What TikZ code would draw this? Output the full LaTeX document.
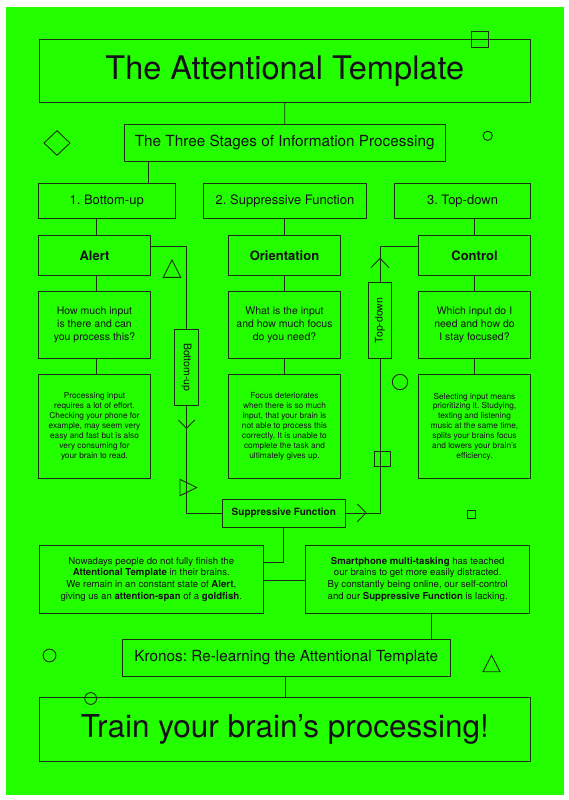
\documentclass[tikz,border=0pt]{standalone}
\usepackage{fontspec}
\setmainfont{TeX Gyre Heros}
\usepackage{graphicx}
\usetikzlibrary{shapes.geometric}
\definecolor{bg}{RGB}{36,255,0}
\definecolor{ink}{RGB}{22,16,28}
\definecolor{edge}{RGB}{28,48,22}
\begin{document}
\frenchspacing
\begin{tikzpicture}[x=1pt,y=-1pt,
  box/.style={draw=edge, line width=0.9pt, inner sep=0pt, align=center, text=ink},
  ln/.style={draw=edge, line width=0.9pt},
  deco/.style={draw=edge, line width=0.9pt},
  ttl/.style={font=\frenchspacing\fontsize{32.5}{36}\selectfont},
  hdr/.style={font=\frenchspacing\fontsize{15.3}{18}\selectfont},
  stg/.style={font=\frenchspacing\fontsize{13}{15}\selectfont},
  lbl/.style={font=\frenchspacing\bfseries\fontsize{13}{15}\selectfont},
  qst/.style={font=\frenchspacing\fontsize{10.5}{13}\selectfont},
  dsc/.style={font=\frenchspacing\fontsize{8.3}{9.9}\selectfont},
  bot/.style={font=\frenchspacing\fontsize{9.6}{11.7}\selectfont},
  vrt/.style={font=\frenchspacing\fontsize{10.5}{12}\selectfont},
  colw/.style={minimum width=112.4pt}
]
% background
\useasboundingbox (0,0) rectangle (569,800);
\fill[white] (0,0) rectangle (569,800);
\fill[bg] (6,7) rectangle (564,795);

% title and header
\node[box, ttl, minimum width=491pt, minimum height=63.2pt] (title) at (284.8,70.9) {The Attentional Template};
\node[box, hdr, minimum width=321.4pt, minimum height=36.3pt] (sub) at (284.7,142.85) {The Three Stages of Information Processing};

% stages
\node[box, stg, minimum width=136.7pt, minimum height=35pt] (s1) at (106.65,200.8) {1. Bottom-up};
\node[box, stg, minimum width=163.4pt, minimum height=35pt] (s2) at (285,200.8) {2. Suppressive Function};
\node[box, stg, minimum width=136.4pt, minimum height=35pt] (s3) at (462.5,200.8) {3. Top-down};

% labels
\node[box, lbl, colw, minimum height=39.3pt] (alert) at (94.5,255.35) {Alert};
\node[box, lbl, colw, minimum height=39.3pt] (orient) at (284.5,255.35) {Orientation};
\node[box, lbl, colw, minimum height=39.3pt] (control) at (474.5,255.35) {Control};

% questions
\node[box, qst, colw, minimum height=67.3pt] (q1) at (94.5,324.65) {How much input\\is there and can\\you process this?};
\node[box, qst, colw, minimum height=67.3pt] (q2) at (284.5,324.65) {What is the input\\and how much focus\\do you need?};
\node[box, qst, colw, minimum height=67.3pt] (q3) at (474.5,324.65) {Which input do I\\need and how do\\I stay focused?};

% descriptions
\node[box, dsc, colw, minimum height=104pt] (d1) at (94.5,426.5) {Processing input\\requires a lot of effort.\\Checking your phone for\\example, may seem very\\easy and fast but is also\\very consuming for\\your brain to read.};
\node[box, dsc, colw, minimum height=104pt] (d2) at (284.5,426.5) {Focus deteriorates\\when there is so much\\input, that your brain is\\not able to process this\\correctly. It is unable to\\complete the task and\\ultimately gives up.};
\node[box, dsc, colw, minimum height=104pt] (d3) at (474.5,426.5) {Selecting input means\\prioritizing it. Studying,\\texting and listening\\music at the same time,\\splits your brains focus\\and lowers your brain’s\\efficiency.};

% vertical labels
\node[box, vrt, minimum width=23.6pt, minimum height=75.7pt] (bu) at (186.5,367.15) {\rotatebox{-90}{Bottom-up}};
\node[box, vrt, minimum width=23.4pt, minimum height=75.8pt] (td) at (380,320.4) {\rotatebox{90}{Top-down}};

% suppressive function
\node[box, font=\bfseries\fontsize{10}{12}\selectfont, minimum width=123pt, minimum height=28.3pt] (sf) at (283.8,513.15) {Suppressive Function};

% bottom boxes
\node[box, bot, minimum width=224pt, minimum height=68.3pt] (bl) at (151.3,579.15) {Nowadays people do not fully finish the\\\textbf{Attentional Template} in their brains.\\We remain in an constant state of \textbf{Alert},\\giving us an \textbf{attention-span} of a \textbf{goldfish}.};
\node[box, bot, minimum width=224pt, minimum height=68.3pt] (br) at (417.7,579.15) {\textbf{Smartphone multi-tasking} has teached\\our brains to get more easily distracted.\\By constantly being online, our self-control\\and our \textbf{Suppressive Function} is lacking.};

% kronos and final
\node[box, hdr, minimum width=328.7pt, minimum height=36.7pt] (kronos) at (286.35,657.65) {Kronos: Re-learning the Attentional Template};
\node[box, font=\fontsize{31.5}{36}\selectfont, minimum width=491pt, minimum height=63.3pt] (final) at (284.8,729.35) {Train your brain’s processing!};

% connectors
\draw[ln] (title.south) -- (sub.north);
\draw[ln] ([xshift=-136pt]sub.south) -- ([xshift=-136pt]sub.south |- s1.north);
\draw[ln] ([xshift=2pt]alert.north) -- ([xshift=2pt]alert.north |- s1.south);
\draw[ln] ([xshift=2pt]alert.south) -- ([xshift=2pt]q1.north);
\draw[ln] ([xshift=2pt]q1.south) -- ([xshift=2pt]d1.north);
\draw[ln] (orient.north) -- (orient.north |- s2.south);
\draw[ln] (orient.south) -- (q2.north);
\draw[ln] (q2.south) -- (d2.north);
\draw[ln] (control.north) -- (control.north |- s3.south);
\draw[ln] (control.south) -- (q3.north);
\draw[ln] (q3.south) -- (d3.north);

\draw[ln] ([yshift=-11pt]alert.north east) -| (bu.north);
\draw[ln] (bu.south) |- (sf.west);
\draw[ln] (sf.east) -| (td.south);
\draw[ln] ([yshift=-11pt]control.north west) -| (td.north);

\draw[ln] (sf.south) |- ([yshift=-18.3pt]bl.north east);
\draw[ln] ([yshift=-36pt]bl.north east) -- ([yshift=-36pt]br.north west);
\draw[ln] ([xshift=13.6pt]br.south) -- ([xshift=13.6pt]br.south |- kronos.north);
\draw[ln] ([xshift=-0.8pt]kronos.south) -- ([xshift=-0.8pt]kronos.south |- final.north);

% chevrons on connectors
\draw[deco] (178.2,420) -- (186.5,428.3) -- (194.8,420);
\draw[deco] (357.3,504) -- (366,512.9) -- (357.3,521.8);
\draw[deco] (371,267.7) -- (380,258.3) -- (389,267.7);

% decorative shapes
\draw[deco] (471.6,31.6) rectangle (488.4,47.4);
\draw[deco] (57,130.7) -- (70,143) -- (57,155.3) -- (44,143) -- cycle;
\draw[deco] (487.7,135.8) circle (4.6);
\draw[deco] (172,260) -- (180.7,277.3) -- (163.3,277.3) -- cycle;
\draw[deco] (180,479.3) -- (196.7,487.5) -- (180,495.7) -- cycle;
\draw[deco] (400,382) circle (7.7);
\draw[deco] (374.3,451) rectangle (390.7,466.7);
\draw[deco] (467,510) rectangle (475,518);
\draw[deco] (49.5,655.5) circle (6.4);
\draw[deco] (491.5,655.2) -- (500,671.7) -- (483,671.7) -- cycle;
\draw[deco] (90.7,698.5) circle (5.9);
\end{tikzpicture}
\end{document}
